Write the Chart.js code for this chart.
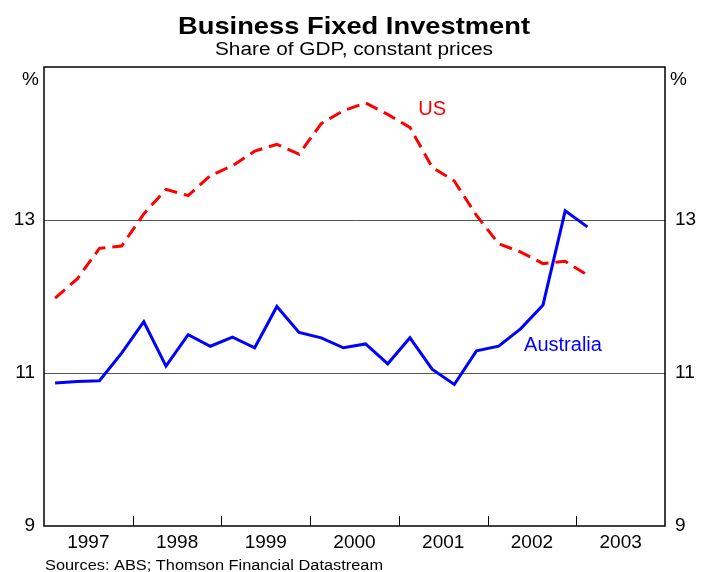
<!DOCTYPE html>
<html>
<head>
<meta charset="utf-8">
<script src="https://cdn.jsdelivr.net/npm/chart.js@4.4.1/dist/chart.umd.min.js"></script>
<style>
  html, body { margin: 0; padding: 0; background: #fff; }
  #wrap { width: 705px; height: 572px; }
</style>
</head>
<body>
<div id="wrap"><canvas id="investChart" width="705" height="572"></canvas></div>
<script>
// quarterly, 1997 Q1 to 2003 Q1
var quarters = ['1997Q1','1997Q2','1997Q3','1997Q4','1998Q1','1998Q2','1998Q3','1998Q4',
                '1999Q1','1999Q2','1999Q3','1999Q4','2000Q1','2000Q2','2000Q3','2000Q4',
                '2001Q1','2001Q2','2001Q3','2001Q4','2002Q1','2002Q2','2002Q3','2002Q4','2003Q1'];
var usShare = [11.98, 12.23, 12.63, 12.66, 13.08, 13.40, 13.32, 13.58, 13.71, 13.90, 13.99, 13.86,
               14.26, 14.43, 14.53, 14.38, 14.21, 13.69, 13.51, 13.06, 12.69, 12.58, 12.43, 12.46, 12.28];
var ausShare = [10.87, 10.89, 10.90, 11.26, 11.67, 11.09, 11.50, 11.35, 11.47, 11.33, 11.87, 11.53,
                11.46, 11.33, 11.38, 11.12, 11.46, 11.05, 10.85, 11.29, 11.35, 11.58, 11.89, 13.12, 12.91];
var years = ['1997','1998','1999','2000','2001','2002','2003'];
var yTicks = [9, 11, 13, 15];

var FONT = '"Liberation Sans", Arial, sans-serif';

function toPoints(arr) {
  return arr.map((v, i) => ({ x: i, y: v }));
}

// draw text squeezed/stretched to a given width (reference font runs a bit wide)
function fitText(c, text, x, y, width) {
  const w = c.measureText(text).width;
  c.save();
  c.translate(x, y);
  c.scale(width / w, 1);
  c.fillText(text, 0, 0);
  c.restore();
}

var decorations = {
  id: 'decorations',
  afterDraw(chart) {
    const c = chart.ctx;
    const a = chart.chartArea;
    const xs = chart.scales.x;
    const ys = chart.scales.y;
    c.save();

    // year boundary ticks inside plot
    c.strokeStyle = '#000';
    c.lineWidth = 1;
    for (let k = 1; k < years.length; k++) {
      const px = Math.round(xs.getPixelForValue(k * 4 - 0.5)) + 0.5;
      c.beginPath();
      c.moveTo(px, a.bottom);
      c.lineTo(px, a.bottom - 10);
      c.stroke();
    }

    // frame
    c.lineWidth = 1.5;
    c.strokeStyle = '#000';
    c.strokeRect(a.left, a.top, a.right - a.left, a.bottom - a.top);

    // titles
    c.fillStyle = '#000';
    c.textAlign = 'center';
    c.textBaseline = 'alphabetic';
    c.font = 'bold 24px ' + FONT;
    fitText(c, 'Business Fixed Investment', 354, 34, 352);
    c.font = '18px ' + FONT;
    fitText(c, 'Share of GDP, constant prices', 354, 55, 278);

    // unit labels
    c.font = '19px ' + FONT;
    c.textBaseline = 'middle';
    c.textAlign = 'right';
    c.fillText('%', a.left - 5, 80);
    c.textAlign = 'left';
    c.fillText('%', a.right + 5, 80);

    // series labels
    c.font = '20px ' + FONT;
    c.textAlign = 'center';
    c.fillStyle = '#ff0000';
    c.fillText('US', xs.getPixelForValue(17.0), ys.getPixelForValue(14.45));
    c.fillStyle = '#0000ff';
    c.fillText('Australia', xs.getPixelForValue(22.9), ys.getPixelForValue(11.36));

    // sources
    c.fillStyle = '#000';
    c.textAlign = 'left';
    c.textBaseline = 'alphabetic';
    c.font = '14px ' + FONT;
    fitText(c, 'Sources: ABS; Thomson Financial Datastream', 45, 570, 338);
    c.restore();
  }
};

var yTickCallback = function (v) { return v === 15 ? '' : String(v); };
var yGridColor = function (ctx) {
  const v = ctx.tick && ctx.tick.value;
  return (v === 11 || v === 13) ? '#555' : 'rgba(0,0,0,0)';
};

var ctx = document.getElementById('investChart').getContext('2d');
var investChart = new Chart(ctx, {
  type: 'line',
  data: {
    datasets: [{
      label: 'US',
      data: toPoints(usShare),
      borderColor: '#ff0000',
      borderWidth: 3,
      borderDash: [13, 7],
      pointRadius: 0,
      fill: false,
      tension: 0
    }, {
      label: 'Australia',
      data: toPoints(ausShare),
      borderColor: '#0000ff',
      borderWidth: 3,
      pointRadius: 0,
      fill: false,
      tension: 0
    }]
  },
  options: {
    responsive: false,
    animation: false,
    layout: { padding: { top: 67, left: 0, right: 0, bottom: 0 } },
    plugins: {
      legend: { display: false },
      tooltip: { enabled: false },
      title: { display: false }
    },
    scales: {
      x: {
        type: 'linear',
        min: -0.5,
        max: quarters.length + 2.5,
        grid: { display: false, drawTicks: false },
        border: { display: false },
        afterBuildTicks: function (axis) {
          axis.ticks = years.map((y, k) => ({ value: k * 4 + 1.5 }));
        },
        afterFit: function (axis) { axis.height = 46; },
        ticks: {
          padding: 5,
          maxRotation: 0,
          autoSkip: false,
          color: '#000',
          font: { family: FONT, size: 19 },
          callback: function (v, i) { return years[i]; }
        }
      },
      y: {
        position: 'left',
        min: 9,
        max: 15,
        afterBuildTicks: function (axis) { axis.ticks = yTicks.map(v => ({ value: v })); },
        afterFit: function (axis) { axis.width = 44; },
        grid: { color: yGridColor, lineWidth: 1, drawTicks: false },
        border: { display: false },
        ticks: {
          padding: 9,
          color: '#000',
          font: { family: FONT, size: 19 },
          callback: yTickCallback
        }
      },
      y2: {
        position: 'right',
        min: 9,
        max: 15,
        afterBuildTicks: function (axis) { axis.ticks = yTicks.map(v => ({ value: v })); },
        afterFit: function (axis) { axis.width = 40; },
        grid: { display: false, drawTicks: false },
        border: { display: false },
        ticks: {
          padding: 10,
          color: '#000',
          font: { family: FONT, size: 19 },
          callback: yTickCallback
        }
      }
    }
  },
  plugins: [decorations]
});
</script>
</body>
</html>
